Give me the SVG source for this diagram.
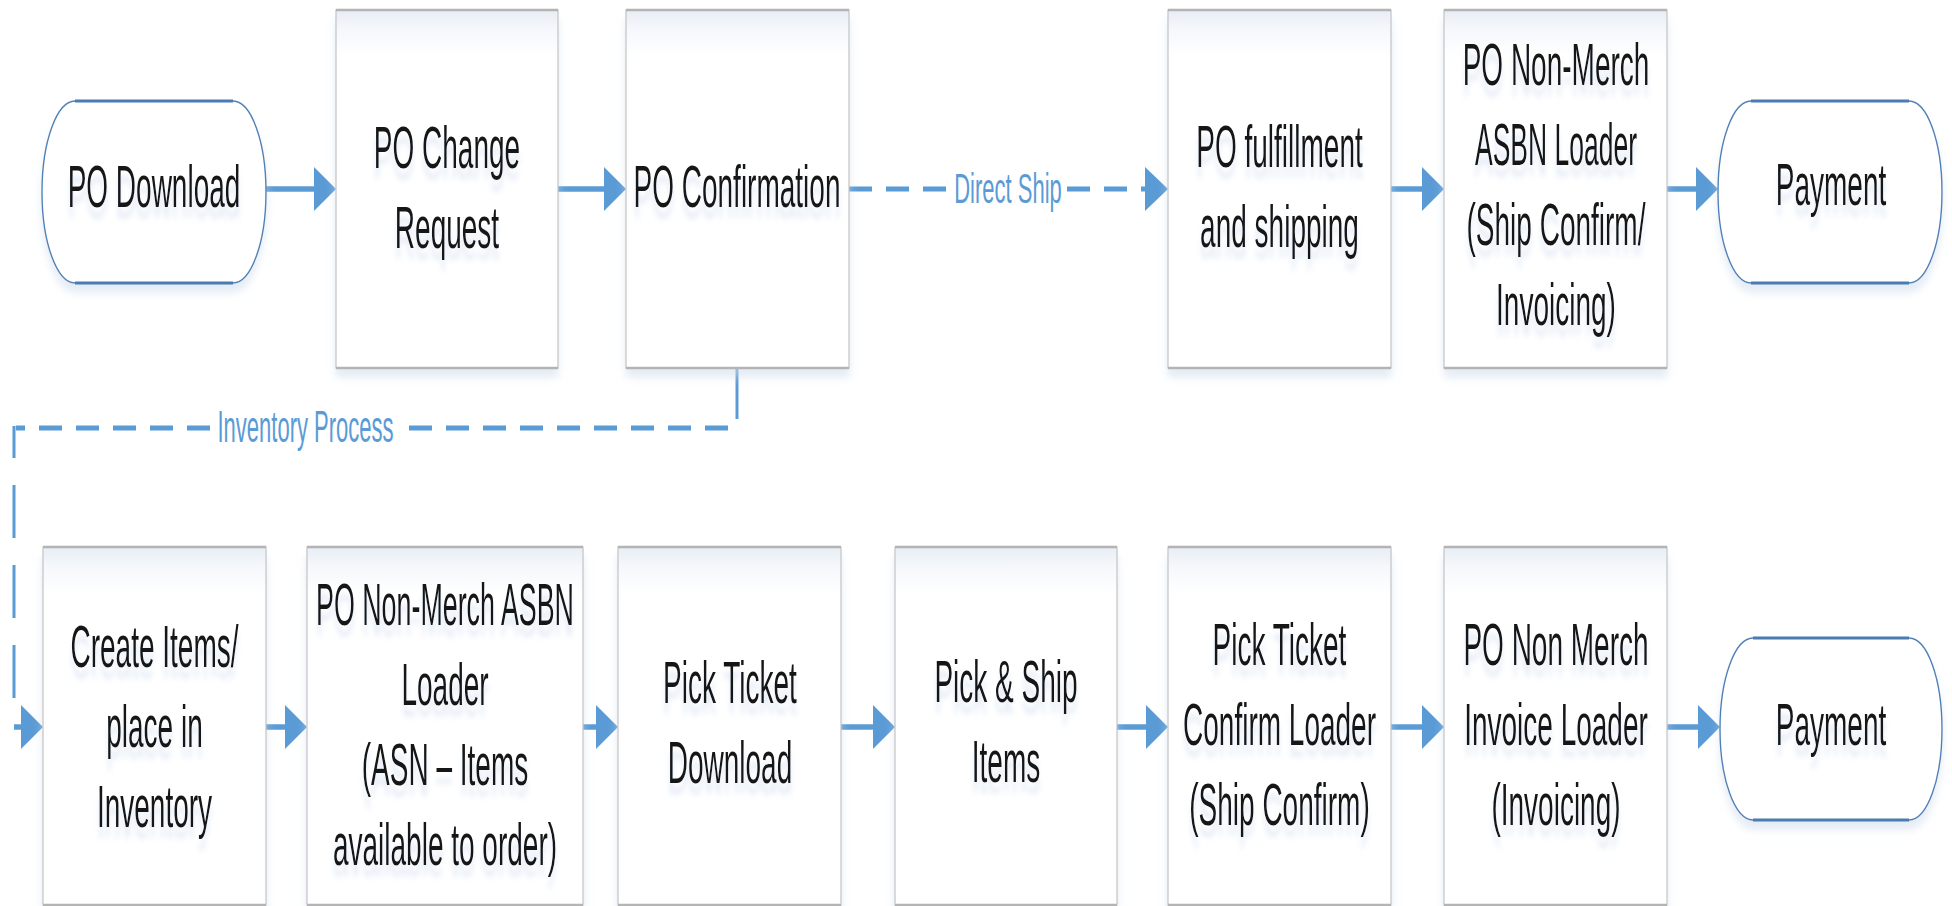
<svg xmlns="http://www.w3.org/2000/svg" width="1952" height="906" viewBox="0 0 1952 906">
  <defs>
    <linearGradient id="boxFill" x1="0" y1="0" x2="0" y2="1">
      <stop offset="0" stop-color="#e8eef6"/>
      <stop offset="0.06" stop-color="#f6f8fc"/>
      <stop offset="0.13" stop-color="#ffffff"/>
    </linearGradient>
    <filter id="boxShadow" x="-5%" y="-5%" width="110%" height="115%">
      <feGaussianBlur in="SourceAlpha" stdDeviation="4"/>
      <feOffset dy="9" result="b"/>
      <feFlood flood-color="#cfdcec" flood-opacity="0.55"/>
      <feComposite in2="b" operator="in" result="s"/>
      <feMerge><feMergeNode in="s"/><feMergeNode in="SourceGraphic"/></feMerge>
    </filter>
    <filter id="textGlow" x="-10%" y="-20%" width="120%" height="160%">
      <feGaussianBlur in="SourceAlpha" stdDeviation="2.5 1.5"/>
      <feOffset dy="5" result="b"/>
      <feFlood flood-color="#b9cde6" flood-opacity="0.45"/>
      <feComposite in2="b" operator="in" result="s"/>
      <feMerge><feMergeNode in="s"/><feMergeNode in="SourceGraphic"/></feMerge>
    </filter>
  </defs>
  <style>
    .box { fill: url(#boxFill); stroke: #c4c4c4; stroke-width: 1.2; filter: url(#boxShadow); }
    .edge { stroke: #b4b4b4; stroke-width: 2.6; }
    .term { fill: #ffffff; stroke: #5080b6; stroke-width: 1.4; filter: url(#boxShadow); }
    .termEdge { stroke: #4a7bb2; stroke-width: 2.8; }
    .lbl { font-family: "Liberation Sans", Arial, sans-serif; font-size: 28px; fill: #141414; text-anchor: middle; filter: url(#textGlow); }
    .elbl { font-family: "Liberation Sans", Arial, sans-serif; font-size: 22px; fill: #5b9bd5; text-anchor: middle; }
    .shaft { stroke: #5b9bd5; stroke-width: 5.5; fill: none; }
    .head { fill: #5b9bd5; }
    .dashH { stroke: #5b9bd5; stroke-width: 5; stroke-dasharray: 23 14; fill: none; }
    .dashV { stroke: #5b9bd5; stroke-width: 3; fill: none; }
  </style>
  <rect width="1952" height="906" fill="#ffffff"/>

  <!-- connectors -->
  <g id="connectors">
    <!-- top row -->
    <line class="shaft" x1="266" y1="189" x2="317" y2="189"/>
    <polygon class="head" points="314,167 336,189 314,211"/>
    <line class="shaft" x1="558" y1="189" x2="607" y2="189"/>
    <polygon class="head" points="604,167 626,189 604,211"/>
    <line class="dashH" x1="849" y1="189" x2="946" y2="189"/>
    <line class="dashH" x1="1067" y1="189" x2="1147" y2="189"/>
    <polygon class="head" points="1145,167 1168,189 1145,211"/>
    <text class="elbl" transform="matrix(1 0 0 1.97 1008 203)">Direct Ship</text>
    <line class="shaft" x1="1391" y1="189" x2="1425" y2="189"/>
    <polygon class="head" points="1422,167 1444,189 1422,211"/>
    <line class="shaft" x1="1667" y1="189" x2="1699" y2="189"/>
    <polygon class="head" points="1696,167 1718,189 1696,211"/>

    <!-- inventory branch from PO Confirmation -->
    <line class="dashV" x1="737" y1="368" x2="737" y2="419"/>
    <line class="dashH" x1="728" y1="428" x2="406" y2="428"/>
    <line class="dashH" x1="210" y1="428" x2="16" y2="428"/>
    <line class="dashV" x1="14" y1="426" x2="14" y2="700" stroke-dasharray="53 27" stroke-dashoffset="21"/>
    <text class="elbl" transform="matrix(1 0 0 2.0 305.5 442)">Inventory Process</text>
    <line class="shaft" x1="14" y1="727" x2="24" y2="727"/>
    <polygon class="head" points="21,705 43,727 21,749"/>

    <!-- bottom row -->
    <line class="shaft" x1="266" y1="727" x2="288" y2="727"/>
    <polygon class="head" points="285,705 307,727 285,749"/>
    <line class="shaft" x1="583" y1="727" x2="599" y2="727"/>
    <polygon class="head" points="596,705 618,727 596,749"/>
    <line class="shaft" x1="841" y1="727" x2="876" y2="727"/>
    <polygon class="head" points="873,705 895,727 873,749"/>
    <line class="shaft" x1="1117" y1="727" x2="1149" y2="727"/>
    <polygon class="head" points="1146,705 1168,727 1146,749"/>
    <line class="shaft" x1="1391" y1="727" x2="1425" y2="727"/>
    <polygon class="head" points="1422,705 1444,727 1422,749"/>
    <line class="shaft" x1="1667" y1="727" x2="1701" y2="727"/>
    <polygon class="head" points="1698,705 1720,727 1698,749"/>
  </g>

  <!-- top row nodes -->
  <g id="po-download">
    <path class="term" d="M75,101 H233 A33,91 0 0 1 233,283 H75 A33,91 0 0 1 75,101 Z"/>
    <line class="termEdge" x1="75" y1="101" x2="233" y2="101"/>
    <line class="termEdge" x1="75" y1="283" x2="233" y2="283"/>
    <text class="lbl" transform="matrix(1 0 0 2.1 154 207)">PO Download</text>
  </g>
  <g id="po-change-request">
    <rect class="box" x="336" y="10" width="222" height="358"/>
    <line class="edge" x1="336" y1="10" x2="558" y2="10"/>
    <line class="edge" x1="336" y1="368" x2="558" y2="368"/>
    <text class="lbl" transform="matrix(1 0 0 2.1 447 168)"><tspan x="0">PO Change</tspan><tspan x="0" dy="38.1">Request</tspan></text>
  </g>
  <g id="po-confirmation">
    <rect class="box" x="626" y="10" width="223" height="358"/>
    <line class="edge" x1="626" y1="10" x2="849" y2="10"/>
    <line class="edge" x1="626" y1="368" x2="849" y2="368"/>
    <text class="lbl" transform="matrix(1 0 0 2.1 737 207)">PO Confirmation</text>
  </g>
  <g id="po-fulfillment">
    <rect class="box" x="1168" y="10" width="223" height="358"/>
    <line class="edge" x1="1168" y1="10" x2="1391" y2="10"/>
    <line class="edge" x1="1168" y1="368" x2="1391" y2="368"/>
    <text class="lbl" transform="matrix(1 0 0 2.1 1279.5 167)"><tspan x="0">PO fulfillment</tspan><tspan x="0" dy="38.1">and shipping</tspan></text>
  </g>
  <g id="po-asbn-loader-direct">
    <rect class="box" x="1444" y="10" width="223" height="358"/>
    <line class="edge" x1="1444" y1="10" x2="1667" y2="10"/>
    <line class="edge" x1="1444" y1="368" x2="1667" y2="368"/>
    <text class="lbl" transform="matrix(1 0 0 2.1 1556 85)"><tspan x="0">PO Non-Merch</tspan><tspan x="0" dy="38.1" textLength="162" lengthAdjust="spacingAndGlyphs">ASBN Loader</tspan><tspan x="0" dy="38.1">(Ship Confirm/</tspan><tspan x="0" dy="38.1">Invoicing)</tspan></text>
  </g>
  <g id="payment-direct">
    <path class="term" d="M1751,101 H1909 A33,91 0 0 1 1909,283 H1751 A33,91 0 0 1 1751,101 Z"/>
    <line class="termEdge" x1="1751" y1="101" x2="1909" y2="101"/>
    <line class="termEdge" x1="1751" y1="283" x2="1909" y2="283"/>
    <text class="lbl" transform="matrix(1 0 0 2.1 1831 205)">Payment</text>
  </g>

  <!-- bottom row nodes -->
  <g id="create-items">
    <rect class="box" x="43" y="547" width="223" height="358"/>
    <line class="edge" x1="43" y1="547" x2="266" y2="547"/>
    <line class="edge" x1="43" y1="905" x2="266" y2="905"/>
    <text class="lbl" transform="matrix(1 0 0 2.1 154.5 667)"><tspan x="0">Create Items/</tspan><tspan x="0" dy="38.1">place in</tspan><tspan x="0" dy="38.1">Inventory</tspan></text>
  </g>
  <g id="po-asbn-loader-inventory">
    <rect class="box" x="307" y="547" width="276" height="358"/>
    <line class="edge" x1="307" y1="547" x2="583" y2="547"/>
    <line class="edge" x1="307" y1="905" x2="583" y2="905"/>
    <text class="lbl" transform="matrix(1 0 0 2.1 445 625)"><tspan x="0" textLength="258" lengthAdjust="spacingAndGlyphs">PO Non-Merch ASBN</tspan><tspan x="0" dy="38.1">Loader</tspan><tspan x="0" dy="38.1">(ASN – Items</tspan><tspan x="0" dy="38.1">available to order)</tspan></text>
  </g>
  <g id="pick-ticket-download">
    <rect class="box" x="618" y="547" width="223" height="358"/>
    <line class="edge" x1="618" y1="547" x2="841" y2="547"/>
    <line class="edge" x1="618" y1="905" x2="841" y2="905"/>
    <text class="lbl" transform="matrix(1 0 0 2.1 730 703)"><tspan x="0">Pick Ticket</tspan><tspan x="0" dy="38.1">Download</tspan></text>
  </g>
  <g id="pick-ship-items">
    <rect class="box" x="895" y="547" width="222" height="358"/>
    <line class="edge" x1="895" y1="547" x2="1117" y2="547"/>
    <line class="edge" x1="895" y1="905" x2="1117" y2="905"/>
    <text class="lbl" transform="matrix(1 0 0 2.1 1006 702)"><tspan x="0">Pick &amp; Ship</tspan><tspan x="0" dy="38.1">Items</tspan></text>
  </g>
  <g id="pick-ticket-confirm-loader">
    <rect class="box" x="1168" y="547" width="223" height="358"/>
    <line class="edge" x1="1168" y1="547" x2="1391" y2="547"/>
    <line class="edge" x1="1168" y1="905" x2="1391" y2="905"/>
    <text class="lbl" transform="matrix(1 0 0 2.1 1279.5 665)"><tspan x="0">Pick Ticket</tspan><tspan x="0" dy="38.1">Confirm Loader</tspan><tspan x="0" dy="38.1">(Ship Confirm)</tspan></text>
  </g>
  <g id="po-invoice-loader">
    <rect class="box" x="1444" y="547" width="223" height="358"/>
    <line class="edge" x1="1444" y1="547" x2="1667" y2="547"/>
    <line class="edge" x1="1444" y1="905" x2="1667" y2="905"/>
    <text class="lbl" transform="matrix(1 0 0 2.1 1556 665)"><tspan x="0">PO Non Merch</tspan><tspan x="0" dy="38.1">Invoice Loader</tspan><tspan x="0" dy="38.1">(Invoicing)</tspan></text>
  </g>
  <g id="payment-inventory">
    <path class="term" d="M1753,638 H1909 A33,91 0 0 1 1909,820 H1753 A33,91 0 0 1 1753,638 Z"/>
    <line class="termEdge" x1="1753" y1="638" x2="1909" y2="638"/>
    <line class="termEdge" x1="1753" y1="820" x2="1909" y2="820"/>
    <text class="lbl" transform="matrix(1 0 0 2.1 1831 745)">Payment</text>
  </g>
</svg>
